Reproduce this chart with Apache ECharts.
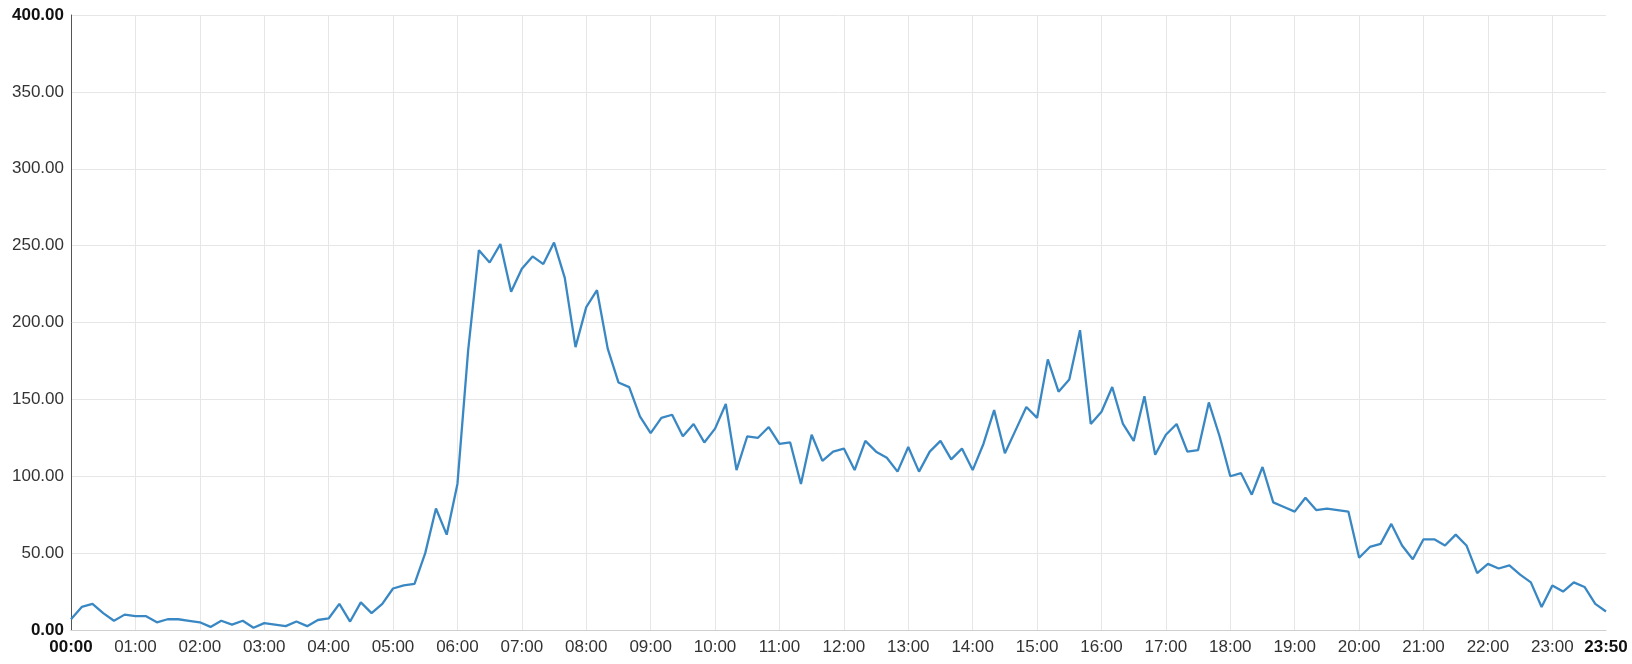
<!DOCTYPE html>
<html>
<head>
<meta charset="utf-8">
<script src="https://cdn.jsdelivr.net/npm/echarts@6/dist/echarts.min.js"></script>
<style>
  html, body { margin: 0; padding: 0; background: #fff; }
  #main { width: 1632px; height: 664px; }
</style>
</head>
<body>
<div id="main"></div>
<script>
// 10-minute slots for one day, 00:00 .. 23:50
var times = [];
for (var h = 0; h < 24; h++) {
  for (var m = 0; m < 60; m += 10) {
    times.push((h < 10 ? "0" : "") + h + ":" + (m < 10 ? "0" : "") + m);
  }
}

var values = [
  7, 15, 17, 11, 6, 10, 9, 9, 5, 7, 7, 6,
  5, 2, 6, 3.5, 6, 1.5, 4.5, 3.5, 2.5, 5.5, 2.5, 6.5,
  7.5, 17, 5.5, 18, 11, 17, 27, 29, 30, 50, 79, 62,
  95, 182, 247, 239, 251, 220, 235, 243, 238, 252, 229, 184,
  210, 221, 183, 161, 158, 139, 128, 138, 140, 126, 134, 122,
  131, 147, 104, 126, 125, 132, 121, 122, 95, 127, 110, 116,
  118, 104, 123, 116, 112, 103, 119, 103, 116, 123, 111, 118,
  104, 121, 143, 115, 130, 145, 138, 176, 155, 163, 195, 134,
  142, 158, 134, 123, 152, 114, 127, 134, 116, 117, 148, 126,
  100, 102, 88, 106, 83, 80, 77, 86, 78, 79, 78, 77,
  47, 54, 56, 69, 55, 46, 59, 59, 55, 62, 55, 37,
  43, 40, 42, 36, 31, 15, 29, 25, 31, 28, 17, 12
];

var yMin = 0, yMax = 400, yStep = 50;

var myChart = echarts.init(document.getElementById("main"));
var last = times.length - 1;

var option = {
  animation: false,
  textStyle: { fontFamily: "Liberation Sans, Arial, sans-serif" },
  grid: { left: 71, right: 26, top: 15, bottom: 34, containLabel: false },
  xAxis: {
    type: "category",
    boundaryGap: false,
    data: times,
    axisLine: { lineStyle: { color: "#cfcfcf" } },
    axisTick: { show: false },
    axisLabel: {
      interval: function (idx) { return idx % 6 === 0 || idx === last; },
      margin: 9,
      fontSize: 17,
      color: "#333",
      formatter: function (v, idx) {
        return (idx === 0 || idx === last) ? "{b|" + v + "}" : v;
      },
      rich: { b: { fontWeight: "bold", color: "#111", fontSize: 17 } }
    },
    splitLine: {
      show: true,
      interval: function (idx) { return idx % 6 === 0 && idx !== 0; },
      lineStyle: { color: "#e6e6e6" }
    }
  },
  yAxis: {
    type: "value",
    min: yMin,
    max: yMax,
    interval: yStep,
    axisLine: { show: true, lineStyle: { color: "#555" } },
    axisTick: { show: false },
    axisLabel: {
      margin: 7,
      fontSize: 17,
      color: "#333",
      formatter: function (v) {
        var s = v.toFixed(2);
        return (v === yMin || v === yMax) ? "{b|" + s + "}" : s;
      },
      rich: { b: { fontWeight: "bold", color: "#111", fontSize: 17 } }
    },
    splitLine: { lineStyle: { color: "#e6e6e6" } }
  },
  series: [
    {
      type: "line",
      data: values,
      showSymbol: false,
      lineStyle: { color: "#3a88c3", width: 2.3 },
      itemStyle: { color: "#3a88c3" }
    }
  ]
};

myChart.setOption(option);
</script>
</body>
</html>
